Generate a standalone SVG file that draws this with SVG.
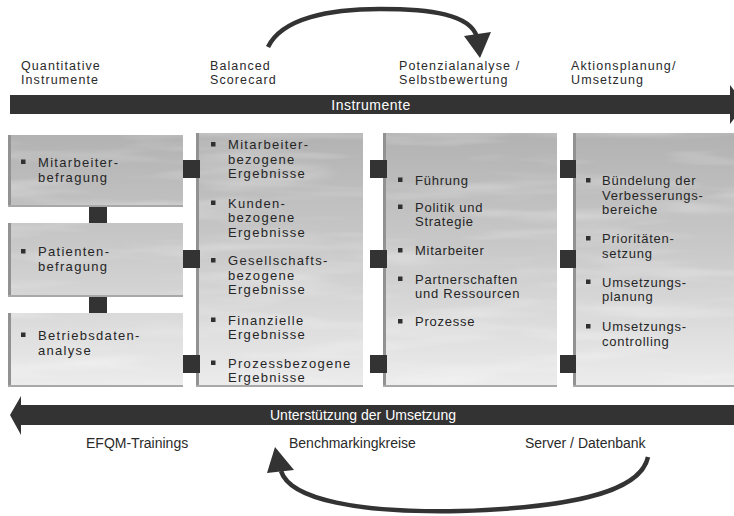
<svg xmlns="http://www.w3.org/2000/svg" width="734" height="516" viewBox="0 0 734 516">
  <style>
    .lbl { font-family: "Liberation Sans", Arial, sans-serif; font-size: 12.5px; fill: #2a2a2a; letter-spacing: 1.1px; }
    .txa { font-family: "Liberation Sans", Arial, sans-serif; font-size: 13px; fill: #262626; letter-spacing: 1.3px; }
    .txb { font-family: "Liberation Sans", Arial, sans-serif; font-size: 13px; fill: #262626; letter-spacing: 0.75px; }
    .bar { font-family: "Liberation Sans", Arial, sans-serif; font-size: 14px; fill: #ffffff; }
    .sub { font-family: "Liberation Sans", Arial, sans-serif; font-size: 14px; fill: #2a2a2a; }
    .dark { fill: #333333; }
    .bul { fill: #303030; }
    .panel { fill: url(#sky); }
    .edgeL { fill: #929292; }
    .edgeB { fill: #a8a8a8; }
    .haze { filter: url(#clouds); opacity: 0.5; }
    .curve { fill: none; stroke: #333333; stroke-width: 4.5; stroke-linecap: butt; }
  </style>
  <defs>
    <linearGradient id="sky" gradientUnits="userSpaceOnUse" x1="0" y1="133" x2="0" y2="390">
      <stop offset="0" stop-color="#b2b2b2"/>
      <stop offset="0.45" stop-color="#c9c9c9"/>
      <stop offset="1" stop-color="#ededed"/>
    </linearGradient>
    <filter id="clouds" x="0" y="0" width="1" height="1">
      <feTurbulence type="fractalNoise" baseFrequency="0.006 0.05" numOctaves="3" seed="7"/>
      <feColorMatrix type="matrix" values="0 0 0 0 1  0 0 0 0 1  0 0 0 0 1  0 0 0 1.6 -0.75"/>
    </filter>
  </defs>

  <!-- phase headings -->
  <g id="headings">
    <text class="lbl" x="21" y="69.5">Quantitative</text>
    <text class="lbl" x="21" y="84">Instrumente</text>
    <text class="lbl" x="210" y="69.5">Balanced</text>
    <text class="lbl" x="210" y="84">Scorecard</text>
    <text class="lbl" x="399" y="69.5">Potenzialanalyse /</text>
    <text class="lbl" x="399" y="84">Selbstbewertung</text>
    <text class="lbl" x="571" y="69.5">Aktionsplanung/</text>
    <text class="lbl" x="571" y="84">Umsetzung</text>
  </g>

  <!-- forward arrow bar -->
  <g id="bar-instrumente">
    <polygon class="dark" points="10,95 730,95 730,85 745,104.5 730,124 730,114 10,114"/>
    <text class="bar" x="371" y="110" text-anchor="middle" letter-spacing="0.5">Instrumente</text>
  </g>

  <!-- column 1: three stacked boxes -->
  <g id="box-mitarbeiterbefragung">
    <rect class="panel" x="8" y="135" width="175" height="72"/>
    <rect class="haze" x="8" y="135" width="175" height="72"/>
    <rect class="edgeL" x="8" y="135" width="3" height="72"/>
    <rect class="edgeB" x="8" y="205" width="175" height="2"/>
    <rect class="bul" x="21" y="159.5" width="4.5" height="4.5"/>
    <text class="txa" x="38" y="166.5">Mitarbeiter-</text>
    <text class="txa" x="38" y="181.5">befragung</text>
  </g>
  <g id="box-patientenbefragung">
    <rect class="panel" x="8" y="223" width="175" height="74"/>
    <rect class="haze" x="8" y="223" width="175" height="74"/>
    <rect class="edgeL" x="8" y="223" width="3" height="74"/>
    <rect class="edgeB" x="8" y="295" width="175" height="2"/>
    <rect class="bul" x="21" y="249" width="4.5" height="4.5"/>
    <text class="txa" x="38" y="256">Patienten-</text>
    <text class="txa" x="38" y="271">befragung</text>
  </g>
  <g id="box-betriebsdatenanalyse">
    <rect class="panel" x="8" y="313" width="175" height="74"/>
    <rect class="haze" x="8" y="313" width="175" height="74"/>
    <rect class="edgeL" x="8" y="313" width="3" height="74"/>
    <rect class="edgeB" x="8" y="385" width="175" height="2"/>
    <rect class="bul" x="21" y="332.5" width="4.5" height="4.5"/>
    <text class="txa" x="38" y="339.5">Betriebsdaten-</text>
    <text class="txa" x="38" y="354.5">analyse</text>
  </g>

  <!-- column 2: Balanced Scorecard results -->
  <g id="box-ergebnisse">
    <rect class="panel" x="196" y="133" width="167" height="254"/>
    <rect class="haze" x="196" y="133" width="167" height="254"/>
    <rect class="edgeL" x="196" y="133" width="3" height="254"/>
    <rect class="edgeB" x="196" y="385" width="167" height="2"/>
    <rect class="bul" x="211" y="142" width="4.5" height="4.5"/>
    <text class="txa" x="228" y="149">Mitarbeiter-</text>
    <text class="txa" x="228" y="163.5">bezogene</text>
    <text class="txa" x="228" y="178">Ergebnisse</text>
    <rect class="bul" x="211" y="200.5" width="4.5" height="4.5"/>
    <text class="txa" x="228" y="207.5">Kunden-</text>
    <text class="txa" x="228" y="222">bezogene</text>
    <text class="txa" x="228" y="236.5">Ergebnisse</text>
    <rect class="bul" x="211" y="258" width="4.5" height="4.5"/>
    <text class="txa" x="228" y="265">Gesellschafts-</text>
    <text class="txa" x="228" y="279.5">bezogene</text>
    <text class="txa" x="228" y="294">Ergebnisse</text>
    <rect class="bul" x="211" y="317.5" width="4.5" height="4.5"/>
    <text class="txa" x="228" y="324.5">Finanzielle</text>
    <text class="txa" x="228" y="339">Ergebnisse</text>
    <rect class="bul" x="211" y="360.5" width="4.5" height="4.5"/>
    <text class="txa" x="228" y="367.5">Prozessbezogene</text>
    <text class="txa" x="228" y="382">Ergebnisse</text>
  </g>

  <!-- column 3: EFQM enablers -->
  <g id="box-befaehiger">
    <rect class="panel" x="383" y="133" width="174" height="254"/>
    <rect class="haze" x="383" y="133" width="174" height="254"/>
    <rect class="edgeL" x="383" y="133" width="3" height="254"/>
    <rect class="edgeB" x="383" y="385" width="174" height="2"/>
    <rect class="bul" x="398" y="177.5" width="4.5" height="4.5"/>
    <text class="txb" x="415" y="184.5">Führung</text>
    <rect class="bul" x="398" y="204.5" width="4.5" height="4.5"/>
    <text class="txb" x="415" y="211.5">Politik und</text>
    <text class="txb" x="415" y="226">Strategie</text>
    <rect class="bul" x="398" y="248" width="4.5" height="4.5"/>
    <text class="txb" x="415" y="255">Mitarbeiter</text>
    <rect class="bul" x="398" y="276.5" width="4.5" height="4.5"/>
    <text class="txb" x="415" y="283.5">Partnerschaften</text>
    <text class="txb" x="415" y="298">und Ressourcen</text>
    <rect class="bul" x="398" y="319" width="4.5" height="4.5"/>
    <text class="txb" x="415" y="326">Prozesse</text>
  </g>

  <!-- column 4: action planning -->
  <g id="box-aktionsplanung">
    <rect class="panel" x="573" y="133" width="161" height="254"/>
    <rect class="haze" x="573" y="133" width="161" height="254"/>
    <rect class="edgeL" x="573" y="133" width="3" height="254"/>
    <rect class="edgeB" x="573" y="385" width="161" height="2"/>
    <rect class="bul" x="586" y="178" width="4.5" height="4.5"/>
    <text class="txb" x="602" y="185">Bündelung der</text>
    <text class="txb" x="602" y="199.5">Verbesserungs-</text>
    <text class="txb" x="602" y="214">bereiche</text>
    <rect class="bul" x="586" y="236" width="4.5" height="4.5"/>
    <text class="txb" x="602" y="243">Prioritäten-</text>
    <text class="txb" x="602" y="257.5">setzung</text>
    <rect class="bul" x="586" y="279.5" width="4.5" height="4.5"/>
    <text class="txb" x="602" y="286.5">Umsetzungs-</text>
    <text class="txb" x="602" y="301">planung</text>
    <rect class="bul" x="586" y="324" width="4.5" height="4.5"/>
    <text class="txb" x="602" y="331">Umsetzungs-</text>
    <text class="txb" x="602" y="345.5">controlling</text>
  </g>

  <!-- connectors: joint blocks and curved arrows -->
  <g id="connectors">
    <rect class="dark" x="89" y="207" width="18" height="16"/>
    <rect class="dark" x="89" y="297" width="18" height="16"/>

    <rect class="dark" x="183" y="160" width="17" height="18"/>
    <rect class="dark" x="183" y="250" width="17" height="18"/>
    <rect class="dark" x="183" y="355" width="17" height="18"/>

    <rect class="dark" x="370" y="160" width="17" height="18"/>
    <rect class="dark" x="370" y="250" width="17" height="18"/>
    <rect class="dark" x="370" y="355" width="17" height="18"/>

    <rect class="dark" x="560" y="160" width="16" height="18"/>
    <rect class="dark" x="560" y="250" width="16" height="18"/>
    <rect class="dark" x="560" y="355" width="16" height="18"/>

    <path class="curve" d="M268,47 C282,18 330,9 380,9 C430,9 470,14 477,37"/>
    <polygon class="dark" points="464,36 491,32 480,58"/>

    <path class="curve" d="M648,457 C640,495 560,508 460,511 C360,513 290,500 281,471"/>
    <polygon class="dark" points="267,473 294,470 275,447"/>
  </g>

  <!-- backward arrow bar -->
  <g id="bar-umsetzung">
    <polygon class="dark" points="10,415 21,396 21,405 734,405 734,425 21,425 21,435"/>
    <text class="bar" x="363" y="420" text-anchor="middle">Unterstützung der Umsetzung</text>
  </g>

  <!-- support items -->
  <g id="support">
    <text class="sub" x="86" y="447.5">EFQM-Trainings</text>
    <text class="sub" x="289" y="447.5">Benchmarkingkreise</text>
    <text class="sub" x="525" y="447.5">Server / Datenbank</text>
  </g>
</svg>
